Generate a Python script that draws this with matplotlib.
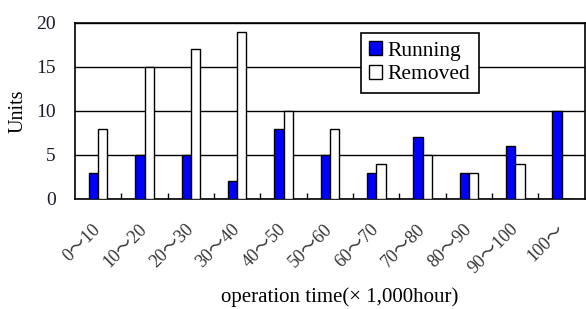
import numpy as np
import matplotlib
matplotlib.use("Agg")
import matplotlib.pyplot as plt
from matplotlib.ticker import FixedLocator

plt.rcParams['font.family'] = ['Liberation Serif', 'Noto Sans CJK JP', 'DejaVu Sans']

categories = ["0～10", "10～20", "20～30", "30～40", "40～50", "50～60",
              "60～70", "70～80", "80～90", "90～100", "100～"]
running = [3, 5, 5, 2, 8, 5, 3, 7, 3, 6, 10]
removed = [8, 15, 17, 19, 10, 8, 4, 5, 3, 4, 0]

fig = plt.figure(figsize=(5.86, 3.09), dpi=100)
ax = fig.add_axes([0.128, 0.356, 0.870, 0.570])

x = np.arange(len(categories))
w = 0.2
ax.bar(x - w / 2, running, w, color="#0000ff", edgecolor="black", linewidth=1.0,
       label="Running", zorder=3)
ax.bar(x + w / 2, removed, w, color="white", edgecolor="black", linewidth=1.0,
       label="Removed", zorder=3)

ax.set_xlim(-0.5, len(categories) - 0.5)
ax.set_ylim(0, 20)
ax.set_yticks([0, 5, 10, 15, 20])
ax.yaxis.grid(True, color="black", linewidth=1.0, zorder=0)
ax.tick_params(axis="y", length=0, labelsize=14, pad=14, labelcolor="#1a1a2a")

ax.set_xticks(x)
ax.set_xticklabels(categories, rotation=45, ha="right", va="center",
                   rotation_mode="anchor", fontsize=13, color="#333333")
ax.xaxis.set_minor_locator(FixedLocator(np.arange(0.5, len(categories) - 1, 1)))
ax.tick_params(axis="x", which="major", length=0, pad=20)
ax.tick_params(axis="x", which="minor", direction="in", length=4, width=1.0)

for s in ax.spines.values():
    s.set_linewidth(1.2)
    s.set_color("black")

ax.set_ylabel("Units", fontsize=14.5)
ax.yaxis.set_label_coords(-0.094, 0.5)
ax.set_xlabel("operation time(× 1,000hour)", fontsize=15)
ax.xaxis.set_label_coords(0.52, -0.50)

leg = ax.legend(loc="upper left", bbox_to_anchor=(0.56, 0.945), fontsize=15.5,
                frameon=True, fancybox=False, edgecolor="black",
                handlelength=0.6, handleheight=0.6, handletextpad=0.25,
                labelspacing=0.2, borderpad=0.4, borderaxespad=0)
leg.get_frame().set_linewidth(1.2)
leg.get_frame().set_alpha(1)
leg.set_zorder(5)

fig.savefig("out.png", dpi=100)
